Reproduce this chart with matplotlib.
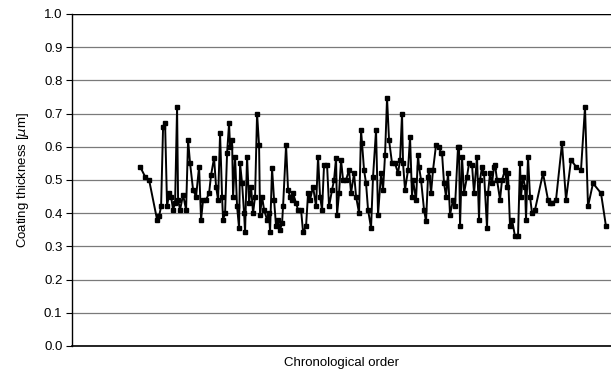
import numpy as np
import matplotlib.pyplot as plt

plt.rcParams['font.family'] = ['Liberation Sans', 'DejaVu Sans']

# sampling day (chronological position) and coating thickness (um)
days = np.array([68, 73, 77, 85, 87, 89, 91, 93, 95, 97, 99, 101, 103, 105, 106, 108,
                 111, 114, 116, 118, 121, 124, 127, 129, 131, 134, 137, 139, 142, 144, 146, 148,
                 150, 151, 153, 155, 157, 158, 160, 161, 163, 165, 167, 168, 170, 172, 173, 175,
                 177, 179, 181, 183, 185, 187, 188, 190, 192, 195, 197, 198, 200, 202, 204, 206,
                 208, 210, 211, 214, 216, 218, 220, 221, 224, 226, 229, 231, 234, 236, 238, 241,
                 244, 246, 248, 250, 252, 255, 257, 260, 262, 264, 265, 267, 269, 271, 274, 277,
                 279, 282, 284, 287, 289, 290, 292, 294, 296, 299, 301, 304, 306, 309, 311, 313,
                 315, 317, 320, 323, 326, 328, 330, 331, 333, 336, 338, 340, 341, 344, 346, 347,
                 349, 352, 354, 356, 357, 359, 361, 364, 367, 369, 370, 372, 374, 376, 378, 381,
                 383, 386, 387, 388, 390, 392, 395, 397, 400, 402, 405, 407, 408, 410, 412, 415,
                 416, 418, 420, 422, 423, 425, 428, 430, 433, 435, 436, 438, 440, 443, 446, 448,
                 449, 451, 453, 454, 456, 458, 460, 463, 471, 476, 478, 480, 484, 490, 494, 499,
                 504, 509, 513, 516, 521, 529, 534])
thickness = np.array([0.54, 0.51, 0.50, 0.38, 0.39, 0.42, 0.66, 0.67, 0.42, 0.46, 0.45, 0.41, 0.43, 0.72, 0.44, 0.41,
                      0.455, 0.41, 0.62, 0.55, 0.47, 0.45, 0.54, 0.38, 0.44, 0.44, 0.46, 0.515, 0.566, 0.48, 0.44, 0.64,
                      0.45, 0.38, 0.40, 0.58, 0.67, 0.60, 0.62, 0.45, 0.57, 0.42, 0.355, 0.55, 0.49, 0.40, 0.343, 0.57,
                      0.43, 0.48, 0.40, 0.45, 0.70, 0.605, 0.395, 0.45, 0.41, 0.38, 0.40, 0.343, 0.535, 0.44, 0.36, 0.38,
                      0.35, 0.37, 0.42, 0.605, 0.47, 0.45, 0.44, 0.46, 0.43, 0.41, 0.41, 0.343, 0.36, 0.46, 0.44, 0.48,
                      0.42, 0.57, 0.45, 0.41, 0.545, 0.545, 0.42, 0.47, 0.50, 0.566, 0.395, 0.46, 0.56, 0.50, 0.50, 0.53,
                      0.46, 0.52, 0.45, 0.40, 0.65, 0.61, 0.53, 0.49, 0.41, 0.355, 0.51, 0.65, 0.395, 0.52, 0.47, 0.575,
                      0.747, 0.62, 0.55, 0.55, 0.52, 0.56, 0.70, 0.55, 0.47, 0.53, 0.63, 0.45, 0.50, 0.44, 0.575, 0.54,
                      0.50, 0.41, 0.375, 0.51, 0.53, 0.46, 0.53, 0.605, 0.60, 0.58, 0.58, 0.49, 0.45, 0.52, 0.395, 0.44,
                      0.42, 0.60, 0.60, 0.36, 0.57, 0.46, 0.51, 0.55, 0.545, 0.46, 0.57, 0.38, 0.50, 0.54, 0.52, 0.355,
                      0.46, 0.52, 0.49, 0.54, 0.545, 0.50, 0.44, 0.50, 0.53, 0.48, 0.52, 0.36, 0.38, 0.33, 0.33, 0.55,
                      0.45, 0.51, 0.48, 0.38, 0.57, 0.45, 0.40, 0.41, 0.52, 0.44, 0.43, 0.43, 0.44, 0.61, 0.44, 0.56,
                      0.54, 0.53, 0.72, 0.42, 0.49, 0.46, 0.36])

fig = plt.figure(figsize=(6.11, 3.76), dpi=100)
ax = fig.add_axes([0.118, 0.080, 0.882, 0.883])

ax.plot(days, thickness, color='black', linewidth=1.4, marker='s', markersize=3.4,
        markerfacecolor='black', markeredgecolor='black', zorder=3)

ax.set_xlim(0, 539)
ax.set_ylim(0, 1.0)
ax.set_yticks(np.arange(0, 1.01, 0.1))
ax.set_yticklabels(['%.1f' % v for v in np.arange(0, 1.01, 0.1)], fontsize=9.5)
ax.set_xticks([])
ax.yaxis.grid(True, color='#7a7a7a', linewidth=0.9)
ax.set_axisbelow(True)
ax.tick_params(axis='y', length=4, width=0.8, color='black', pad=3)

for s in ['top', 'right']:
    ax.spines[s].set_visible(False)
ax.spines['left'].set_linewidth(1.0)
ax.spines['bottom'].set_linewidth(1.2)
ax.axhline(1.0, color='black', linewidth=1.0, zorder=2)

ax.set_ylabel('Coating thickness [$\\mu$m]', fontsize=9.5, labelpad=9)
ax.set_xlabel('Chronological order', fontsize=9.5, labelpad=8)

fig.savefig('out.png', dpi=100)
